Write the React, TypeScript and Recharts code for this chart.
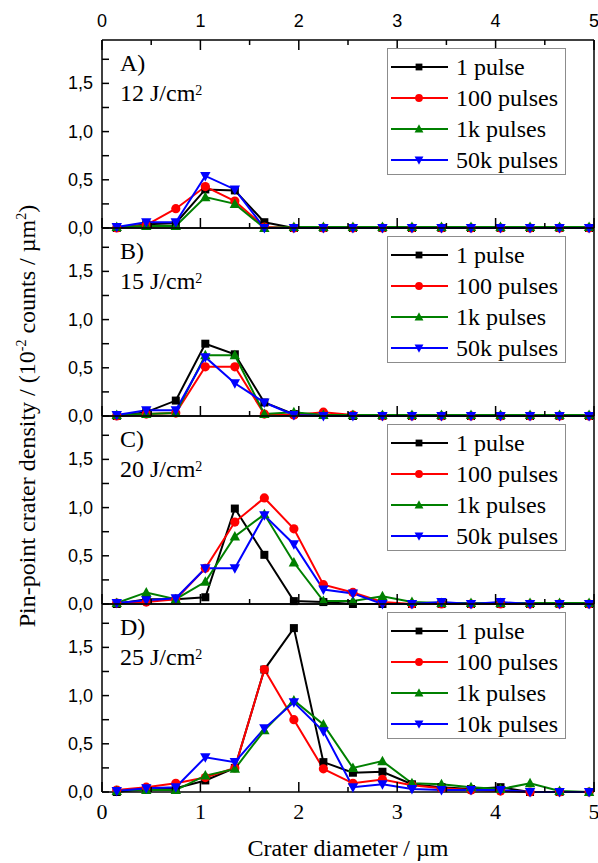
import { Legend, Line, LineChart, XAxis, YAxis } from "recharts";

// crater diameter bins (µm)
const diameters = [0.15, 0.45, 0.75, 1.05, 1.35, 1.65, 1.95, 2.25, 2.55, 2.85, 3.15, 3.45, 3.75, 4.05, 4.35, 4.65, 4.95];

// A) 12 J/cm²
const a1Pulse = [0, 0.04, 0.05, 0.4, 0.39, 0.06, 0, 0, 0, 0, 0, 0, 0, 0, 0, 0, 0];
const a100Pulses = [0, 0.03, 0.2, 0.43, 0.28, 0.01, 0, 0, 0, 0, 0, 0, 0, 0, 0, 0, 0];
const a1kPulses = [0.01, 0.02, 0.02, 0.32, 0.25, 0, 0.01, 0.01, 0.01, 0.01, 0.01, 0.01, 0.01, 0.01, 0.01, 0.01, 0.01];
const a50kPulses = [0.01, 0.06, 0.06, 0.54, 0.4, 0, 0, 0, 0, 0, 0, 0, 0, 0, 0, 0, 0];

// B) 15 J/cm²
const b1Pulse = [0, 0.04, 0.16, 0.75, 0.64, 0.14, 0.02, 0.01, 0, 0, 0, 0, 0, 0, 0, 0, 0];
const b100Pulses = [0, 0.02, 0.03, 0.51, 0.51, 0.02, 0.01, 0.04, 0.01, 0, 0, 0, 0, 0, 0, 0, 0];
const b1kPulses = [0.01, 0.02, 0.03, 0.63, 0.63, 0.02, 0.04, 0.01, 0.01, 0.01, 0.01, 0.01, 0.01, 0.01, 0.01, 0.01, 0.01];
const b50kPulses = [0.01, 0.06, 0.06, 0.61, 0.34, 0.14, 0.01, 0, 0, 0, 0, 0, 0, 0, 0, 0, 0];

// C) 20 J/cm²
const c1Pulse = [0, 0.05, 0.05, 0.07, 0.99, 0.51, 0.03, 0.02, 0, 0, 0, 0, 0, 0, 0, 0, 0];
const c100Pulses = [0.01, 0.02, 0.05, 0.37, 0.85, 1.1, 0.78, 0.2, 0.12, 0.02, 0, 0, 0, 0, 0, 0, 0];
const c1kPulses = [0.01, 0.12, 0.05, 0.23, 0.7, 0.93, 0.43, 0.03, 0.03, 0.08, 0.02, 0.01, 0.01, 0.01, 0.01, 0.01, 0.01];
const c50kPulses = [0.01, 0.04, 0.06, 0.37, 0.37, 0.92, 0.62, 0.15, 0.11, 0, 0, 0.02, 0, 0.02, 0, 0, 0];

// D) 25 J/cm²
const d1Pulse = [0, 0.04, 0.04, 0.12, 0.25, 1.27, 1.7, 0.31, 0.2, 0.21, 0.08, 0.05, 0.03, 0.05, 0, 0, 0];
const d100Pulses = [0.02, 0.05, 0.09, 0.15, 0.25, 1.27, 0.75, 0.24, 0.09, 0.13, 0.07, 0.04, 0.02, 0.01, 0, 0, 0];
const d1kPulses = [0.01, 0.02, 0.02, 0.17, 0.24, 0.64, 0.95, 0.7, 0.25, 0.32, 0.09, 0.08, 0.05, 0.03, 0.09, 0.01, 0];
const d10kPulses = [0.01, 0.04, 0.05, 0.36, 0.31, 0.66, 0.93, 0.63, 0.05, 0.08, 0.03, 0.02, 0.02, 0.02, 0, 0, 0];

const panelTags = ["A)", "B)", "C)", "D)"];
const fluences = ["12", "15", "20", "25"];
const legendLabelsABC = ["1 pulse", "100 pulses", "1k pulses", "50k pulses"];
const legendLabelsD = ["1 pulse", "100 pulses", "1k pulses", "10k pulses"];

const xTicks = [0, 0.5, 1, 1.5, 2, 2.5, 3, 3.5, 4, 4.5, 5];
const yTicks = [0, 0.25, 0.5, 0.75, 1, 1.25, 1.5, 1.75];

const colors = ["#000000", "#ff0000", "#008000", "#0000ff"];
const shapes = ["square", "circle", "up", "down"];

const serif = "'Liberation Serif', 'Times New Roman', Times, 'Nimbus Roman', FreeSerif, 'DejaVu Serif', serif";
const sans = "'Liberation Sans', Arial, Helvetica, sans-serif";

const PLOT_LEFT = 102;
const PLOT_RIGHT = 594;
const PLOT_H = 188;
const panelTops = [40, 228, 416, 604];

const isMajor = (v: number, step: number) => Math.abs(v / step - Math.round(v / step)) < 1e-6;

function Marker({ cx, cy, shape, color, size = 1 }: any) {
  if (cx == null || cy == null) return null;
  if (shape === "square") {
    const s = 4 * size;
    return <rect x={cx - s} y={cy - s} width={2 * s} height={2 * s} fill={color} />;
  }
  if (shape === "circle") return <circle cx={cx} cy={cy} r={4.6 * size} fill={color} />;
  const w = 5.2 * size;
  const pts =
    shape === "up"
      ? `${cx - w},${cy + 4 * size} ${cx + w},${cy + 4 * size} ${cx},${cy - 5.5 * size}`
      : `${cx - w},${cy - 4 * size} ${cx + w},${cy - 4 * size} ${cx},${cy + 5.5 * size}`;
  return <polygon points={pts} fill={color} />;
}

function makeDot(i: number) {
  return (p: any) => <Marker key={`dot-${i}-${p.index}`} cx={p.cx} cy={p.cy} shape={shapes[i]} color={colors[i]} />;
}

function LegendBox({ labels }: { labels: string[] }) {
  return (
    <div style={{ width: 179, height: 127, boxSizing: "border-box", border: "1.5px solid #8c8c8c", background: "#fff" }}>
      <svg width={176} height={124}>
        {labels.map((lab, i) => {
          const y = 18 + i * 31;
          return (
            <g key={lab}>
              <line x1={3} x2={60} y1={y} y2={y} stroke={colors[i]} strokeWidth={2} />
              <Marker cx={31} cy={y} shape={shapes[i]} color={colors[i]} size={0.85} />
              <text x={68} y={y + 8} fontFamily={serif} fontSize={24} fill="#000">
                {lab}
              </text>
            </g>
          );
        })}
      </svg>
    </div>
  );
}

function Panel({ idx, series, labels }: { idx: number; series: number[][]; labels: string[] }) {
  const first = idx === 0;
  const last = idx === 3;
  const mt = first ? 40 : 4;
  const mb = last ? 44 : 14;
  const data = diameters.map((d, i) => ({ d, s0: series[0][i], s1: series[1][i], s2: series[2][i], s3: series[3][i] }));

  const leftTick = ({ x, y, payload }: any) => {
    const major = isMajor(payload.value, 0.5);
    return (
      <g>
        <line x1={x} x2={x + 7} y1={y} y2={y} stroke="#000" strokeWidth={1.5} />
        {major && (
          <text x={x - 9} y={y + 6} textAnchor="end" fontFamily={sans} fontSize={18} fill="#000">
            {payload.value.toFixed(1).replace(".", ",")}
          </text>
        )}
      </g>
    );
  };
  const rightTick = ({ x, y }: any) => <line x1={x} x2={x - 7} y1={y} y2={y} stroke="#000" strokeWidth={1.5} />;
  const bottomTick = ({ x, y, payload }: any) => {
    const major = isMajor(payload.value, 1);
    return (
      <g>
        <line x1={x} x2={x} y1={y} y2={y - (major ? 10 : 5)} stroke="#000" strokeWidth={1.5} />
        {last && major && (
          <text x={x} y={y + 27} textAnchor="middle" fontFamily={serif} fontSize={22} fill="#000">
            {payload.value}
          </text>
        )}
      </g>
    );
  };
  const topTick = ({ x, y, payload }: any) => {
    const major = isMajor(payload.value, 1);
    return (
      <g>
        <line x1={x} x2={x} y1={y} y2={y + (major ? 10 : 5)} stroke="#000" strokeWidth={1.5} />
        {major && (
          <text x={x} y={y - 13} textAnchor="middle" fontFamily={sans} fontSize={18} fill="#000">
            {payload.value}
          </text>
        )}
      </g>
    );
  };
  const frame = { stroke: "#000", strokeWidth: 1.5 };

  return (
    <div style={{ position: "absolute", left: 0, top: panelTops[idx] - mt }}>
      <LineChart
        width={598}
        height={mt + PLOT_H + mb}
        data={data}
        margin={{ top: mt - 1, right: 598 - PLOT_RIGHT - 1, bottom: mb - 1, left: PLOT_LEFT - 1 }}
      >
        <XAxis
          xAxisId="b"
          dataKey="d"
          type="number"
          domain={[0, 5]}
          ticks={xTicks}
          interval={0}
          height={1}
          tickSize={0}
          tickMargin={0}
          tick={bottomTick}
          axisLine={frame}
        />
        <XAxis
          xAxisId="t"
          orientation="top"
          dataKey="d"
          type="number"
          domain={[0, 5]}
          ticks={xTicks}
          interval={0}
          height={1}
          tickSize={0}
          tickMargin={0}
          tick={first ? topTick : false}
          axisLine={frame}
        />
        <YAxis
          yAxisId="l"
          type="number"
          domain={[0, 1.95]}
          ticks={yTicks}
          interval={0}
          width={1}
          tickSize={0}
          tickMargin={0}
          tick={leftTick}
          axisLine={frame}
        />
        <YAxis
          yAxisId="r"
          orientation="right"
          type="number"
          domain={[0, 1.95]}
          ticks={yTicks}
          interval={0}
          width={1}
          tickSize={0}
          tickMargin={0}
          tick={rightTick}
          axisLine={frame}
        />
        {[0, 1, 2, 3].map((i) => (
          <Line
            key={i}
            xAxisId="b"
            yAxisId="l"
            type="linear"
            dataKey={`s${i}`}
            stroke={colors[i]}
            strokeWidth={2}
            dot={makeDot(i)}
            activeDot={false}
            isAnimationActive={false}
          />
        ))}
        <Legend
          layout="vertical"
          align="center"
          verticalAlign="middle"
          width={179}
          height={127}
          wrapperStyle={{ left: 387, top: mt + 8 }}
          content={() => <LegendBox labels={labels} />}
        />
      </LineChart>
      <div style={{ position: "absolute", left: 120, top: mt + 8, fontFamily: serif, fontSize: 24, lineHeight: "30px", color: "#000" }}>
        <div>{panelTags[idx]}</div>
        <div>
          {fluences[idx]} J/cm<sup style={{ fontSize: 14, verticalAlign: "top", position: "relative", top: -2 }}>2</sup>
        </div>
      </div>
    </div>
  );
}

export default function App() {
  return (
    <div style={{ position: "absolute", left: 0, top: 0, width: 598, height: 863, background: "#fff" }}>
      <Panel idx={0} series={[a1Pulse, a100Pulses, a1kPulses, a50kPulses]} labels={legendLabelsABC} />
      <Panel idx={1} series={[b1Pulse, b100Pulses, b1kPulses, b50kPulses]} labels={legendLabelsABC} />
      <Panel idx={2} series={[c1Pulse, c100Pulses, c1kPulses, c50kPulses]} labels={legendLabelsABC} />
      <Panel idx={3} series={[d1Pulse, d100Pulses, d1kPulses, d10kPulses]} labels={legendLabelsD} />
      <div
        style={{
          position: "absolute",
          left: 27,
          top: 416,
          transform: "translate(-50%, -50%) rotate(-90deg)",
          whiteSpace: "nowrap",
          fontFamily: serif,
          fontSize: 24,
          color: "#000",
        }}
      >
        Pin-point crater density / (10<sup style={{ fontSize: 14 }}>-2</sup> counts / µm<sup style={{ fontSize: 14 }}>2</sup>)
      </div>
      <div
        style={{
          position: "absolute",
          left: 348,
          top: 848,
          transform: "translate(-50%, -50%)",
          whiteSpace: "nowrap",
          fontFamily: serif,
          fontSize: 24,
          color: "#000",
        }}
      >
        Crater diameter / µm
      </div>
    </div>
  );
}
